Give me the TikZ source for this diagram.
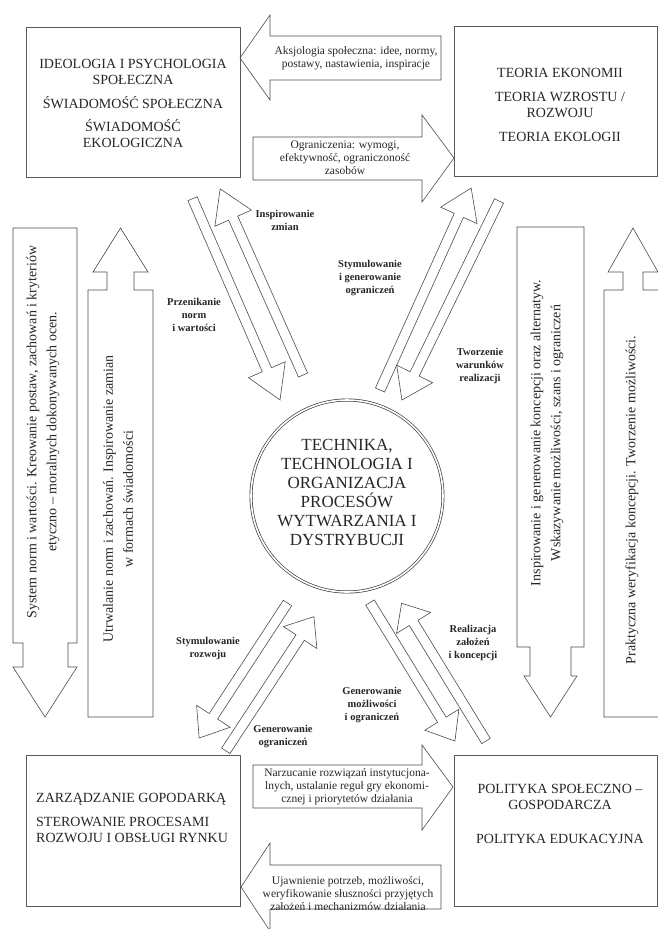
\documentclass[tikz,border=0pt]{standalone}
\usepackage{fontspec}
\setmainfont{Liberation Serif}
\usepackage{tikz}

\newcommand{\slantarrow}[5]{%
  \begin{scope}[shift={(#1,#2)},rotate=#3]
    \draw[outline] (0,-5) -- (#4-#5,-5) -- (#4-#5,-20) -- (#4,0) -- (#4-#5,20) -- (#4-#5,5) -- (0,5) -- cycle;
  \end{scope}}

\begin{document}
\begin{tikzpicture}[x=1pt,y=-1pt,
	outline/.style={draw=black!70,line width=0.6pt},
	box/.style={draw=black!65,line width=0.9pt,minimum width=214pt,minimum height=150pt},
	boxtext/.style={text=black!85,inner sep=0pt,align=center,font=\fontsize{14}{16}\selectfont},
	smalltext/.style={text=black!85,inner sep=0pt,align=center,font=\fontsize{11.5}{13}\selectfont},
	sidetext/.style={text=black!85,inner sep=0pt,align=center,rotate=90,font=\fontsize{14}{20}\selectfont},
	flowlabel/.style={text=black!85,inner sep=0pt,align=center,font=\fontsize{10.5}{13}\selectfont\bfseries}]
	\useasboundingbox (0,0) rectangle (658,929);
	\clip (0,0) rectangle (658,929);

	\node[box] (ideo) at (133,102) {};
	\node[boxtext] (ideoText) at (133,103) {IDEOLOGIA I PSYCHOLOGIA\\SPOŁECZNA\\[8pt]ŚWIADOMOŚĆ SPOŁECZNA\\[7pt]ŚWIADOMOŚĆ\\EKOLOGICZNA};
	\node[box,minimum width=203pt] (teoria) at (555.5,101.5) {};
	\node[boxtext] (teoriaText) at (560,105) {TEORIA EKONOMII\\[8pt]TEORIA WZROSTU /\\ROZWOJU\\[8pt]TEORIA EKOLOGII};
	\node[box,minimum height=151pt] (zarz) at (133,830.5) {};
	\node[boxtext,align=left,anchor=west] (zarzText) at (36,818) {ZARZĄDZANIE GOPODARKĄ\\[8pt]STEROWANIE PROCESAMI\\ROZWOJU I OBSŁUGI RYNKU};
	\node[box,minimum width=203pt,minimum height=151pt] (polityka) at (555.5,830.5) {};
	\node[boxtext] (politykaText) at (560,814) {POLITYKA SPOŁECZNO –\\GOSPODARCZA\\[18pt]POLITYKA EDUKACYJNA};

	\node[circle,draw=black!75,line width=0.7pt,double,double distance=1.6pt,minimum size=192pt] (technika) at (347,496) {};
	\node[text=black!85,inner sep=0pt,align=center,font=\fontsize{17}{19}\selectfont] (technikaText) at (347,492) {TECHNIKA,\\TECHNOLOGIA I\\ORGANIZACJA\\PROCESÓW\\WYTWARZANIA I\\DYSTRYBUCJI};

	\draw[outline] (240,58) -- (270,15) -- (270,36) -- (441,36) -- (441,80) -- (270,80) -- (270,100) -- cycle;
	\node[smalltext] (aksjoText) at (356,58) {Aksjologia społeczna: idee, normy,\\postawy, nastawienia, inspiracje};
	\draw[outline] (253,137) -- (422,137) -- (422,115) -- (454,158) -- (422,202) -- (422,180) -- (253,180) -- cycle;
	\node[smalltext] (ogranText) at (345,158) {Ograniczenia: wymogi,\\efektywność, ograniczoność\\zasobów};
	\draw[outline] (253,765) -- (422,765) -- (422,745) -- (453,787) -- (422,830) -- (422,808) -- (253,808) -- cycle;
	\node[smalltext] (narzText) at (347,787) {Narzucanie rozwiązań instytucjona-\\lnych, ustalanie reguł gry ekonomi-\\cznej i priorytetów działania};
	\draw[outline] (241,887) -- (270,843) -- (270,865) -- (441,865) -- (441,909) -- (270,909) -- (270,931) -- cycle;
	\node[smalltext] (ujawText) at (348,893.5) {Ujawnienie potrzeb, możliwości,\\weryfikowanie słuszności przyjętych\\założeń i mechanizmów działania};

	\draw[outline] (13,228) -- (77,228) -- (77,643) -- (68,643) -- (68,667) -- (77,667) -- (45,717) -- (13,667) -- (23,667) -- (23,643) -- (13,643) -- cycle;
	\node[sidetext] (sysText) at (43,432) {System norm i wartości. Kreowanie postaw, zachowań i kryteriów\\etyczno – moralnych dokonywanych ocen.};
	\draw[outline] (88,717) -- (88,290) -- (107,290) -- (107,272) -- (93,272) -- (120.5,228) -- (148,272) -- (134,272) -- (134,290) -- (153,290) -- (153,717) -- cycle;
	\node[sidetext] (utrwText) at (118,499) {Utrwalanie norm i zachowań. Inspirowanie zamian\\w formach świadomości};
	\draw[outline] (517,227) -- (584,227) -- (584,647) -- (571,647) -- (571,676) -- (577,676) -- (550.5,717) -- (524,676) -- (530,676) -- (530,647) -- (517,647) -- cycle;
	\node[sidetext] (inspText) at (547,433) {Inspirowanie i generowanie koncepcji oraz alternatyw.\\Wskazywanie możliwości, szans i ograniczeń};
	\draw[outline] (604,717) -- (604,290) -- (623,290) -- (623,272) -- (608,272) -- (633,228) -- (658,272) -- (643,272) -- (643,290) -- (662,290) -- (662,717) -- cycle;
	\node[sidetext] (praktText) at (632,500) {Praktyczna weryfikacja koncepcji. Tworzenie możliwości.};

	\slantarrow{192.5}{198.7}{-66.5}{219.5}{33}
	\slantarrow{303}{375}{114}{203.7}{32}
	\slantarrow{380}{390}{65.7}{221.6}{30}
	\slantarrow{499}{201}{-116}{221.4}{29}
	\slantarrow{287.5}{603}{-123.2}{161.4}{26}
	\slantarrow{225.8}{750.8}{56.7}{160.5}{25}
	\slantarrow{486}{741}{121.5}{161.5}{23}
	\slantarrow{370}{602.5}{-58.5}{162.5}{25}

	\node[flowlabel] (lblInspir) at (285,220) {Inspirowanie\\zmian};
	\node[flowlabel] (lblPrzen) at (194,315) {Przenikanie\\norm\\i wartości};
	\node[flowlabel] (lblStym) at (370,278) {Stymulowanie\\i generowanie\\ograniczeń};
	\node[flowlabel] (lblTworz) at (480,366) {Tworzenie\\warunków\\realizacji};
	\node[flowlabel] (lblRozw) at (208,648) {Stymulowanie\\rozwoju};
	\node[flowlabel] (lblGenOgr) at (283,737) {Generowanie\\ograniczeń};
	\node[flowlabel] (lblReal) at (473,643) {Realizacja\\założeń\\i koncepcji};
	\node[flowlabel] (lblGenMoz) at (372,705) {Generowanie\\możliwości\\i ograniczeń};
\end{tikzpicture}
\end{document}
